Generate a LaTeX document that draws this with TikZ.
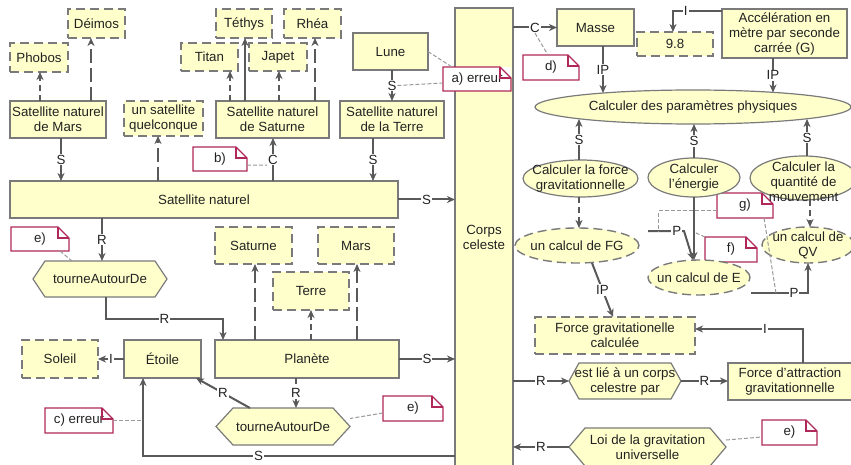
\documentclass[tikz,border=0pt]{standalone}
\usepackage{fontspec}
\setmainfont{Liberation Sans}
\usetikzlibrary{arrows.meta,shapes.geometric,backgrounds,calc}
\definecolor{fillY}{HTML}{FFFFCC}
\definecolor{bordC}{HTML}{7A7A7A}
\definecolor{lineC}{HTML}{595959}
\definecolor{noteR}{HTML}{B0285A}
\definecolor{txtC}{HTML}{222222}
\newcommand\fsz{\fontsize{13.3pt}{15pt}\selectfont}
\newcommand\hexshape[4]{\begin{pgfonlayer}{background}\draw[hexst] ($(#1)+(-#2,0)$) -- ($(#1)+(-#2+#4,-#3)$) -- ($(#1)+(#2-#4,-#3)$) -- ($(#1)+(#2,0)$) -- ($(#1)+(#2-#4,#3)$) -- ($(#1)+(-#2+#4,#3)$) -- cycle;\end{pgfonlayer}}
\newcommand\noteshape[1]{\draw[notest] (#1.south west) -- (#1.north west) -- ([xshift=-11pt]#1.north east) -- ([yshift=-11pt]#1.north east) -- (#1.south east) -- cycle; \draw[notest] ([xshift=-11pt]#1.north east) |- ([yshift=-11pt]#1.north east);}
\begin{document}
\begin{tikzpicture}[x=1pt,y=-1pt,
  every node/.style={font=\fsz, inner sep=0pt, outer sep=0pt, text=txtC},
  sbox/.style={draw=bordC, line width=1.2pt, fill=fillY, align=center},
  dbox/.style={draw=bordC, line width=1.4pt, dash pattern=on 9pt off 5pt, fill=fillY, align=center},
  sell/.style={ellipse, draw=bordC, line width=1.2pt, fill=fillY},
  dell/.style={ellipse, draw=bordC, line width=1.4pt, dash pattern=on 9pt off 5pt, fill=fillY},
  hexn/.style={align=center},
  hexst/.style={draw=bordC, line width=1.2pt, fill=fillY},
  notebox/.style={fill=white},
  notest/.style={draw=noteR, line width=1.1pt},
  cn/.style={draw=lineC, line width=2pt, -{Stealth[length=8pt,width=7pt,inset=2.5pt]}},
  dshort/.style={dash pattern=on 6pt off 4pt},
  dlong/.style={dash pattern=on 14pt off 5pt},
  lbl/.style={fill=white, inner sep=1pt},
  nl/.style={draw=gray!80, line width=1pt, dash pattern=on 4pt off 2pt}
]
\useasboundingbox (0,0) rectangle (851,465);
\clip (0,0) rectangle (851,465);

% central column
\node[sbox, minimum width=58pt, minimum height=458pt] (corps) at (484,237) {Corps\\celeste};

% notes
\node[notebox, minimum width=68pt, minimum height=24pt] (noteA) at (477,79) {a) erreur};
\noteshape{noteA}
\node[notebox, minimum width=54pt, minimum height=24pt] (noteB) at (220,159) {b)};
\noteshape{noteB}
\node[notebox, minimum width=58pt, minimum height=24pt] (noteE1) at (40,239) {e)};
\noteshape{noteE1}
\node[notebox, minimum width=68pt, minimum height=25pt] (noteC) at (79,420.5) {c) erreur};
\noteshape{noteC}
\node[notebox, minimum width=60pt, minimum height=25pt] (noteE2) at (413,408.5) {e)};
\noteshape{noteE2}
\node[notebox, minimum width=56pt, minimum height=25pt] (noteD) at (551,67.5) {d)};
\noteshape{noteD}
\node[notebox, minimum width=56pt, minimum height=25pt] (noteG) at (745,205.5) {g)};
\noteshape{noteG}
\node[notebox, minimum width=52pt, minimum height=25pt] (noteF) at (731,249.5) {f)};
\noteshape{noteF}
\node[notebox, minimum width=55pt, minimum height=25pt] (noteE3) at (789.5,432.5) {e)};
\noteshape{noteE3}

% left part
\node[dbox, minimum width=58pt, minimum height=29pt] (phobos) at (39,57.5) {Phobos};
\node[dbox, minimum width=57pt, minimum height=29pt] (deimos) at (96.5,23.5) {Déimos};
\node[sbox, minimum width=96pt, minimum height=37pt] (satmars) at (58,119.5) {Satellite naturel\\de Mars};
\node[dbox, minimum width=79pt, minimum height=35pt] (quelc) at (163.5,118.5) {un satellite\\quelconque};
\node[dbox, minimum width=57pt, minimum height=28pt] (titan) at (209.5,57) {Titan};
\node[dbox, minimum width=56pt, minimum height=29pt] (tethys) at (244,23.5) {Téthys};
\node[dbox, minimum width=58pt, minimum height=28pt] (japet) at (278,57) {Japet};
\node[dbox, minimum width=57pt, minimum height=29pt] (rhea) at (312.5,23.5) {Rhéa};
\node[sbox, minimum width=113pt, minimum height=37pt] (satsat) at (272.5,119.5) {Satellite naturel\\de Saturne};
\node[sbox, minimum width=75pt, minimum height=37pt] (lune) at (390.5,51.5) {Lune};
\node[sbox, minimum width=104pt, minimum height=37pt] (satterre) at (392,119.5) {Satellite naturel\\de la Terre};
\node[sbox, minimum width=388pt, minimum height=37pt] (satnat) at (204,199.5) {Satellite naturel};
\node[hexn, minimum width=134pt, minimum height=36pt] (tour1) at (100,279) {tourneAutourDe};
\hexshape{tour1}{67}{18}{12}
\node[dbox, minimum width=77pt, minimum height=37pt] (saturne) at (253.5,245.5) {Saturne};
\node[dbox, minimum width=76pt, minimum height=37pt] (mars) at (356,245.5) {Mars};
\node[dbox, minimum width=76pt, minimum height=38pt] (terre) at (311,291) {Terre};
\node[sbox, minimum width=184pt, minimum height=38pt] (planete) at (307,359) {Planète};
\node[hexn, minimum width=134pt, minimum height=37pt] (tour2) at (283,426.5) {tourneAutourDe};
\hexshape{tour2}{67}{18.5}{17}
\node[sbox, minimum width=77pt, minimum height=38pt] (etoile) at (162.5,359) {Étoile};
\node[dbox, minimum width=76pt, minimum height=38pt] (soleil) at (60,359) {Soleil};

% right part
\node[sbox, minimum width=77pt, minimum height=37pt] (masse) at (595.5,27.5) {Masse};
\node[dbox, minimum width=76pt, minimum height=24pt] (nine) at (675,44) {9.8};
\node[sbox, minimum width=125pt, minimum height=49pt] (accel) at (784.5,33.5) {Accélération en\\mètre par seconde\\carrée (G)};
\node[sell, minimum width=316pt, minimum height=34pt, label={center:{Calculer des paramètres physiques}}] (calcp) at (693,107) {};
\node[sell, minimum width=115pt, minimum height=37pt, label={[align=center]center:{Calculer la force\\gravitationnelle}}] (calcfg) at (580.5,178.5) {};
\node[sell, minimum width=92pt, minimum height=39pt, label={[align=center]center:{Calculer\\l'énergie}}] (calce) at (694,177.5) {};
\node[sell, minimum width=107pt, minimum height=44pt, label={[align=center,yshift=-4pt]center:{Calculer la\\quantité de\\mouvement}}] (calcqv) at (803.5,178) {};
\node[dell, minimum width=124pt, minimum height=35pt, label={center:{un calcul de FG}}] (ucfg) at (577,245.5) {};
\node[dell, minimum width=102pt, minimum height=35pt, label={center:{un calcul de E}}] (uce) at (699,277.5) {};
\node[dell, minimum width=92pt, minimum height=36pt, label={[align=center]center:{un calcul de\\QV}}] (ucqv) at (808,245) {};
\node[dbox, minimum width=160pt, minimum height=37pt] (fgc) at (615,335.5) {Force gravitationelle\\calculée};
\node[sbox, minimum width=124pt, minimum height=37pt] (fatt) at (790,381.5) {Force d'attraction\\gravitationnelle};
\node[hexn, minimum width=112pt, minimum height=36pt] (estlie) at (625,381) {est lié à un corps\\celestre par};
\hexshape{estlie}{56}{18}{10}
\node[hexn, minimum width=157pt, minimum height=38pt] (loi) at (647.5,447) {Loi de la gravitation\\universelle};
\hexshape{loi}{78.5}{19}{16}

% connectors left
\draw[cn,dshort] ([xshift=-18pt]satmars.north) -- ([xshift=1pt]phobos.south);
\draw[cn,dlong] ([xshift=33pt]satmars.north) -- ([xshift=-5.5pt]deimos.south);
\draw[cn] ([xshift=3pt]satmars.south) -- node[lbl]{S} ([xshift=-143pt]satnat.north);
\draw[cn,dlong] ([xshift=-46pt]satnat.north) -- ([xshift=-5.5pt]quelc.south);
\draw[cn,dshort] ([xshift=-42.5pt]satsat.north) -- ([xshift=20.5pt]titan.south);
\draw[cn] ([xshift=-27.5pt]satsat.north) -- ([xshift=1pt]tethys.south);
\draw[cn,dshort] ([xshift=6.5pt]satsat.north) -- ([xshift=1pt]japet.south);
\draw[cn,dlong] ([xshift=42.5pt]satsat.north) -- ([xshift=2.5pt]rhea.south);
\draw[cn] ([xshift=69pt]satnat.north) -- node[lbl](lC){C} ([xshift=0.5pt]satsat.south);
\draw[cn] ([xshift=1.5pt]lune.south) -- node[lbl](lS1){S} (satterre.north);
\draw[cn] ([xshift=-19pt]satterre.south) -- node[lbl]{S} ([xshift=169pt]satnat.north);
\draw[cn] (satnat.east) -- node[lbl]{S} (satnat.east -| corps.west);
\draw[cn] ([xshift=-102pt]satnat.south) -- node[lbl]{R} ([xshift=2pt]tour1.north);
\coordinate (k1) at (223,319);
\draw[cn] ([xshift=6pt]tour1.south) |- node[lbl,pos=0.75]{R} (k1) -- ([xshift=-84pt]planete.north);
\draw[cn,dlong] ([xshift=-52pt]planete.north) -- ([xshift=1.5pt]saturne.south);
\draw[cn,dshort] ([xshift=4pt]planete.north) -- (terre.south);
\draw[cn,dlong] ([xshift=50pt]planete.north) -- ([xshift=1pt]mars.south);
\draw[cn] (planete.east) -- node[lbl]{S} (planete.east -| corps.west);
\draw[cn,dshort] ([xshift=-11pt]planete.south) -- node[lbl]{R} ([xshift=13pt]tour2.north);
\draw[cn] ([xshift=-33pt]tour2.north) -- node[lbl]{R} ([xshift=33.5pt]etoile.south);
\draw[cn] (etoile.west) -- node[lbl]{I} (soleil.east);
\coordinate (k2) at (143,456);
\draw[cn] (k2 -| corps.west) -- node[lbl,pos=0.63]{S} (k2) -- ([xshift=-19.5pt]etoile.south);

% note links left
\draw[nl] (lune.east) -- ([xshift=-25pt]noteA.north);
\draw[nl] (lS1.east) -- ([yshift=-4pt]noteA.west);
\draw[nl] ([yshift=-6pt]noteB.east) -- (lC.south west);
\draw[nl] ([xshift=20pt]noteE1.south) -- ([xshift=-28pt]tour1.north);
\draw[nl] (noteC.east) -- (k2 |- noteC.east);
\draw[nl] ([yshift=-4.5pt]noteE2.west) -- ([yshift=8pt]tour2.east);

% connectors right
\draw[cn] (corps.east |- masse.west) -- node[lbl](lC2){C} (masse.west);
\draw[nl] (lC2.south) -- ([xshift=-3pt]noteD.north);
\draw[cn] ([yshift=22.5pt]accel.west) -| node[lbl,pos=0.37]{I} ([xshift=-2pt]nine.north);
\draw[cn] ([xshift=7.5pt]masse.south) -- node[lbl]{IP} ([xshift=-90pt,yshift=-3pt]calcp.north);
\draw[cn] ([xshift=-11.5pt]accel.south) -- node[lbl]{IP} ([xshift=80pt,yshift=-2.5pt]calcp.north);
\draw[cn] ([xshift=-1.5pt]calcfg.north) -- node[lbl]{S} ([xshift=-114pt,yshift=5pt]calcp.south);
\draw[cn] (calce.north) -- node[lbl]{S} ([xshift=1pt]calcp.south);
\draw[cn] ([xshift=3.5pt]calcqv.north) -- node[lbl]{S} ([xshift=114pt,yshift=5pt]calcp.south);
\draw[cn,dshort] ([xshift=-1.5pt]calcfg.south) -- ([xshift=2pt]ucfg.north);
\draw[cn] (calce.south) -- coordinate[pos=0.556](fpt) ([xshift=-5pt]uce.north);
\draw[nl] (noteF.north west) -- (fpt);
\coordinate (p1s) at (648,231);
\coordinate (p1m) at (684,231);
\draw[cn] (p1s) -- coordinate[pos=0.3](g1) node[lbl,pos=0.8]{P} (p1m) -- ([xshift=-6pt]uce.north);
\draw[nl] ([yshift=-5.5pt]noteG.west) -| (g1);
\coordinate (p2s) at (751,293);
\draw[cn] (p2s) -| coordinate[pos=0.219](g2) node[lbl,pos=0.377]{P} (ucqv.south);
\draw[nl] ([xshift=19pt]noteG.south) -- (g2);
\draw[cn,dshort] ([xshift=6.5pt]calcqv.south) -- ([xshift=2pt]ucqv.north);
\draw[cn] ([xshift=15pt]ucfg.south) -- node[lbl]{IP} ([xshift=-2pt]fgc.north);
\draw[cn] ([xshift=13pt]fatt.north) |- node[lbl,pos=0.676]{I} ([yshift=6.5pt]fgc.east);
\draw[cn] (corps.east |- estlie.west) -- node[lbl]{R} (estlie.west);
\draw[cn] (estlie.east) -- node[lbl]{R} (estlie.east -| fatt.west);
\draw[cn] (loi.west) -- node[lbl]{R} (loi.west -| corps.east);
\draw[nl] ([yshift=7pt]loi.east) -- ([yshift=-4.5pt]noteE3.west);
\end{tikzpicture}
\end{document}
